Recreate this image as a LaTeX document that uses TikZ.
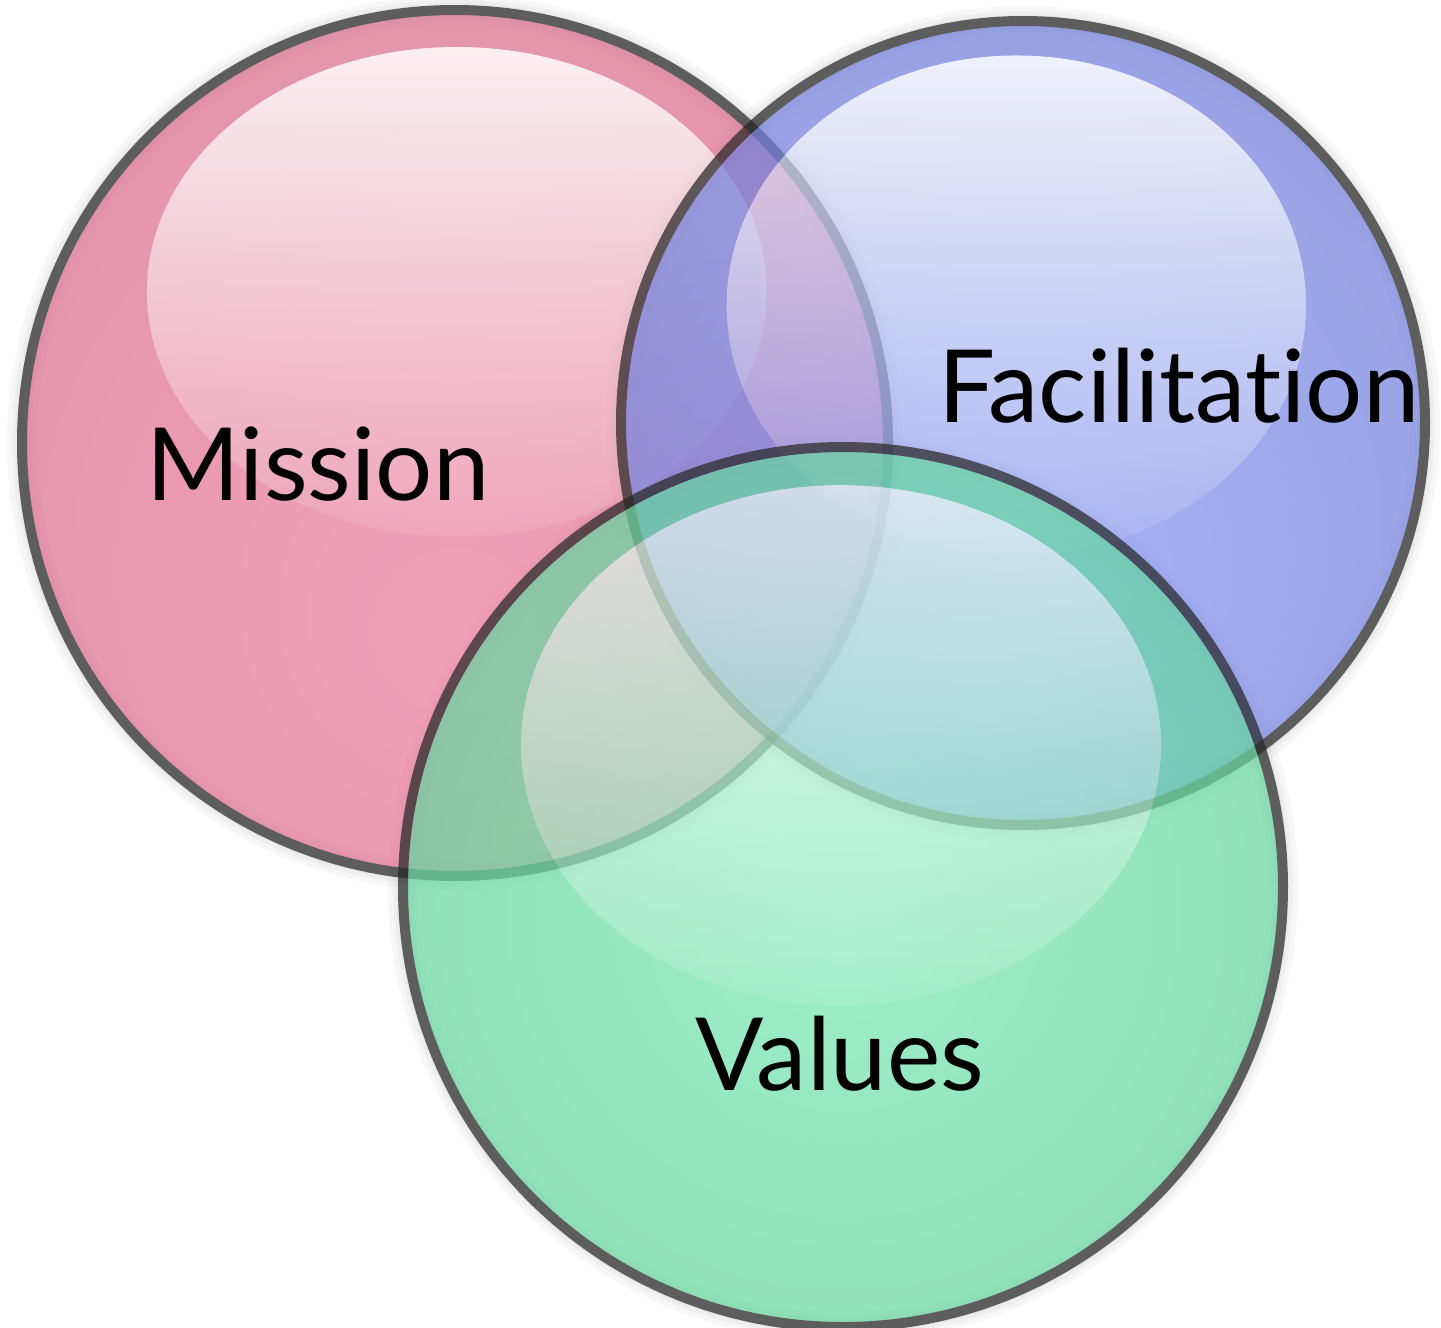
\documentclass[tikz,border=0pt]{standalone}
\usepackage{fontspec}
\setmainfont{Lato}[Ligatures=NoCommon]
\usetikzlibrary{fadings}
\definecolor{pinkin}{RGB}{236,124,160}
\definecolor{pinkout}{RGB}{204,98,124}
\definecolor{bluein}{RGB}{130,150,245}
\definecolor{blueout}{RGB}{102,110,198}
\definecolor{greenin}{RGB}{118,232,180}
\definecolor{greenout}{RGB}{88,194,140}
\definecolor{ringcol}{RGB}{39,39,39}
\pgfdeclareradialshading{pinkshade}{\pgfpoint{0bp}{-12bp}}{color(0bp)=(pinkin); color(50bp)=(pinkout)}
\pgfdeclareradialshading{blueshade}{\pgfpoint{0bp}{-12bp}}{color(0bp)=(bluein); color(50bp)=(blueout)}
\pgfdeclareradialshading{greenshade}{\pgfpoint{0bp}{-2bp}}{color(0bp)=(greenin); color(50bp)=(greenout)}
\tikzfading[name=glossfade, top color=transparent!15, bottom color=transparent!92]
\tikzset{
  bubble/.style={transparency group, opacity=0.72},
  gloss/.style={fill=white, path fading=glossfade},
  ring/.style={draw=ringcol, line width=10pt},
  halo/.style={draw=black, draw opacity=0.03},
  label/.style={anchor=base, inner sep=0pt, font=\fontsize{101}{110}\selectfont, text=black}
}
\begin{document}
\begin{tikzpicture}[x=1pt,y=-1pt]
\useasboundingbox (0,0) rectangle (1441,1328);
% soft halos
\foreach \c/\r in {{(455,443)}/433,{(1023,423)}/402,{(843,887)}/440}{
  \draw[halo, line width=30pt] \c circle (\r);
  \draw[halo, line width=20pt] \c circle (\r);
  \draw[halo, line width=13pt] \c circle (\r);
}
% Mission
\begin{scope}[bubble]
  \path[shading=pinkshade] (455,443) circle (433);
  \fill[gloss] (457,292) ellipse (310 and 245);
  \draw[ring] (455,443) circle (433);
\end{scope}
% Facilitation
\begin{scope}[bubble]
  \path[shading=blueshade] (1023,423) circle (402);
  \fill[gloss] (1017,305) ellipse (290 and 250);
  \draw[ring] (1023,423) circle (402);
\end{scope}
% Values
\begin{scope}[bubble]
  \path[shading=greenshade] (843,887) circle (440);
  \fill[gloss] (841,745) ellipse (320 and 260);
  \draw[ring] (843,887) circle (440);
\end{scope}
% labels
\node[label] (mission) at (318,500) {Mission};
\node[label] (facil) at (1179,422) {Facilitation};
\node[label] (values) at (840,1090) {Values};
\end{tikzpicture}
\end{document}
